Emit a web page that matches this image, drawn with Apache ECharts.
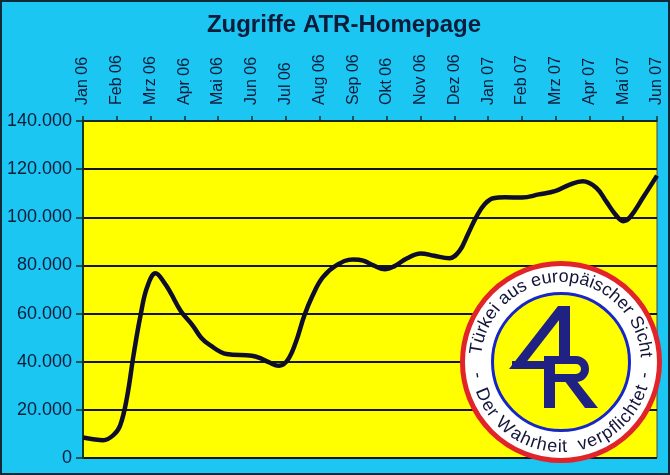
<!DOCTYPE html>
<html>
<head>
<meta charset="utf-8">
<script src="https://cdn.jsdelivr.net/npm/echarts@6/dist/echarts.min.js"></script>
<style>
html,body{margin:0;padding:0;background:#1cc6f2;}
#c{width:670px;height:475px;}
</style>
</head>
<body>
<div id="c"></div>
<script>
// Month tick labels (top axis)
const months = ['Jan 06','Feb 06','Mrz 06','Apr 06','Mai 06','Jun 06','Jul 06','Aug 06','Sep 06','Okt 06','Nov 06','Dez 06','Jan 07','Feb 07','Mrz 07','Apr 07','Mai 07','Jun 07'];
// Position of each reading, in months since Jan 06
const monthPos = [0,0.3,0.6,0.9,1.1,1.3,1.5,1.7,1.9,2.15,2.4,2.6,2.9,3.25,3.5,3.75,4.25,5.0,5.25,5.5,5.8,6.05,6.3,6.55,6.8,7.1,7.5,8.0,8.3,8.6,8.95,9.2,9.6,10.0,10.4,10.85,11.15,11.4,11.65,11.9,12.15,12.5,13.0,13.5,14.0,14.4,14.8,15.2,15.5,15.75,16.0,16.2,16.6,17.0];
// Homepage hits
const visits = [8500,7800,7400,9500,13500,25000,43000,59000,71000,76700,73000,68500,61000,55000,50000,47000,43200,42500,41500,39800,38300,40500,48000,59000,67500,75000,80000,82500,82000,80000,78400,79500,83000,85000,84000,83000,86000,93000,100200,105500,107900,108300,108200,109500,111000,113500,115000,112300,106500,101500,98400,100000,108500,117300];
// Y tick labels
const yTicks = [0,20000,40000,60000,80000,100000,120000,140000];
const yLabels = ['0','20.000','40.000','60.000','80.000','100.000','120.000','140.000'];

const FONT = '"Liberation Sans", Arial, sans-serif';
const NAVY = '#0d1c3a';

const chart = echarts.init(document.getElementById('c'), null, {renderer:'canvas'});

// ---- logo helpers ----
const cx = 561, cy = 362;
const mctx = document.createElement('canvas').getContext('2d');
function arcText(str, r, start, end, dir, font) {
  mctx.font = font;
  const ws = [...str].map(ch => mctx.measureText(ch).width);
  const W = ws.reduce((a,b)=>a+b,0);
  const span = end - start;
  const els = [];
  let acc = 0;
  [...str].forEach((ch,i) => {
    const off = acc + ws[i]/2;
    acc += ws[i];
    const phi = (start + span*off/W) * Math.PI/180;
    const x = cx + r*Math.sin(phi), y = cy - r*Math.cos(phi);
    const rot = dir > 0 ? -phi : (Math.PI - phi);
    if (ch === ' ') return;
    els.push({type:'text', x:x, y:y, rotation:rot, z:110,
      style:{text:ch, x:0, y:0, font:font, fill:'#14143a',
             align:'center', verticalAlign:'middle', textAlign:'center', textVerticalAlign:'middle'}});
  });
  return els;
}
const lf = '18px ' + FONT;
const LC = '#1f2183';
let logo = [
  {type:'circle', shape:{cx:cx, cy:cy, r:98.5}, style:{fill:'#ffffff', stroke:'#e3232a', lineWidth:5}, z:100},
  {type:'circle', shape:{cx:cx, cy:cy, r:68.5}, style:{fill:'#ffff00', stroke:'#1626c8', lineWidth:3}, z:101},
  // A
  {type:'polygon', shape:{points:[[558,306],[570,306],[521,369],[509,369]]}, style:{fill:LC}, z:102},
  {type:'rect', shape:{x:512, y:361, width:41, height:8}, style:{fill:LC}, z:102},
  {type:'rect', shape:{x:559, y:306, width:11, height:52}, style:{fill:LC}, z:102},
  // R
  {type:'rect', shape:{x:544, y:356, width:11, height:52}, style:{fill:LC}, z:102},
  {type:'rect', shape:{x:544, y:356, width:32, height:8}, style:{fill:LC}, z:102},
  {type:'rect', shape:{x:555, y:374, width:21, height:8}, style:{fill:LC}, z:102},
  {type:'sector', shape:{cx:576, cy:369, r:13, r0:5, startAngle:-Math.PI/2, endAngle:Math.PI/2, clockwise:true}, style:{fill:LC}, z:102},
  {type:'polygon', shape:{points:[[564,380],[576,380],[598,408],[585,408]]}, style:{fill:LC}, z:102}
];
logo = logo.concat(arcText('Türkei aus europäischer Sicht', 85, -85, 87, 1, lf));
logo = logo.concat(arcText('Der Wahrheit  verpflichtet', 85, 252, 106, -1, lf));
logo = logo.concat(arcText('-', 85, 261, 261, 1, lf));
logo = logo.concat(arcText('-', 85, 99, 99, 1, lf));

const option = {
  backgroundColor: '#1cc6f2',
  animation: false,
  title: {
    text: 'Zugriffe ATR-Homepage', left: 339, top: 8, textAlign: 'center',
    textStyle: {fontFamily: FONT, fontSize: 24, fontWeight: 'bold', color: NAVY}
  },
  grid: {left: 83, right: 13, top: 121, bottom: 17, show: true,
         backgroundColor: '#ffff00', borderColor: '#444', borderWidth: 1},
  xAxis: {
    type: 'value', position: 'top', min: 0, max: 17, interval: 1,
    axisLine: {show: true, onZero: false, lineStyle: {color: '#1a2e22', width: 1.5}},
    axisTick: {show: true, length: 5, lineStyle: {color: '#1a2e22', width: 1.5}},
    axisLabel: {rotate: -90, margin: 16, fontFamily: FONT, fontSize: 16, color: NAVY,
                formatter: v => months[v] || ''},
    splitLine: {show: false}
  },
  yAxis: {
    type: 'value', min: 0, max: 140000, interval: 20000,
    axisLine: {show: true, onZero: false, lineStyle: {color: '#0f3a1c', width: 2}},
    axisTick: {show: true, length: 7, lineStyle: {color: '#1a2e22', width: 1.5}},
    axisLabel: {margin: 11, fontFamily: FONT, fontSize: 18, color: NAVY,
                formatter: v => yLabels[yTicks.indexOf(v)]},
    splitLine: {show: true, lineStyle: {color: '#151515', width: 2}}
  },
  series: [{
    type: 'line', smooth: 0.4, showSymbol: false, symbol: 'none',
    data: monthPos.map((m, i) => [m, visits[i]]),
    lineStyle: {color: '#0e0e2c', width: 4.5}
  }],
  graphic: [
    {type:'rect', shape:{x:1, y:1, width:668, height:473}, style:{fill:'none', stroke:'#0c2a3a', lineWidth:2}, z:120}
  ].concat(logo)
};
chart.setOption(option);
</script>
</body>
</html>
